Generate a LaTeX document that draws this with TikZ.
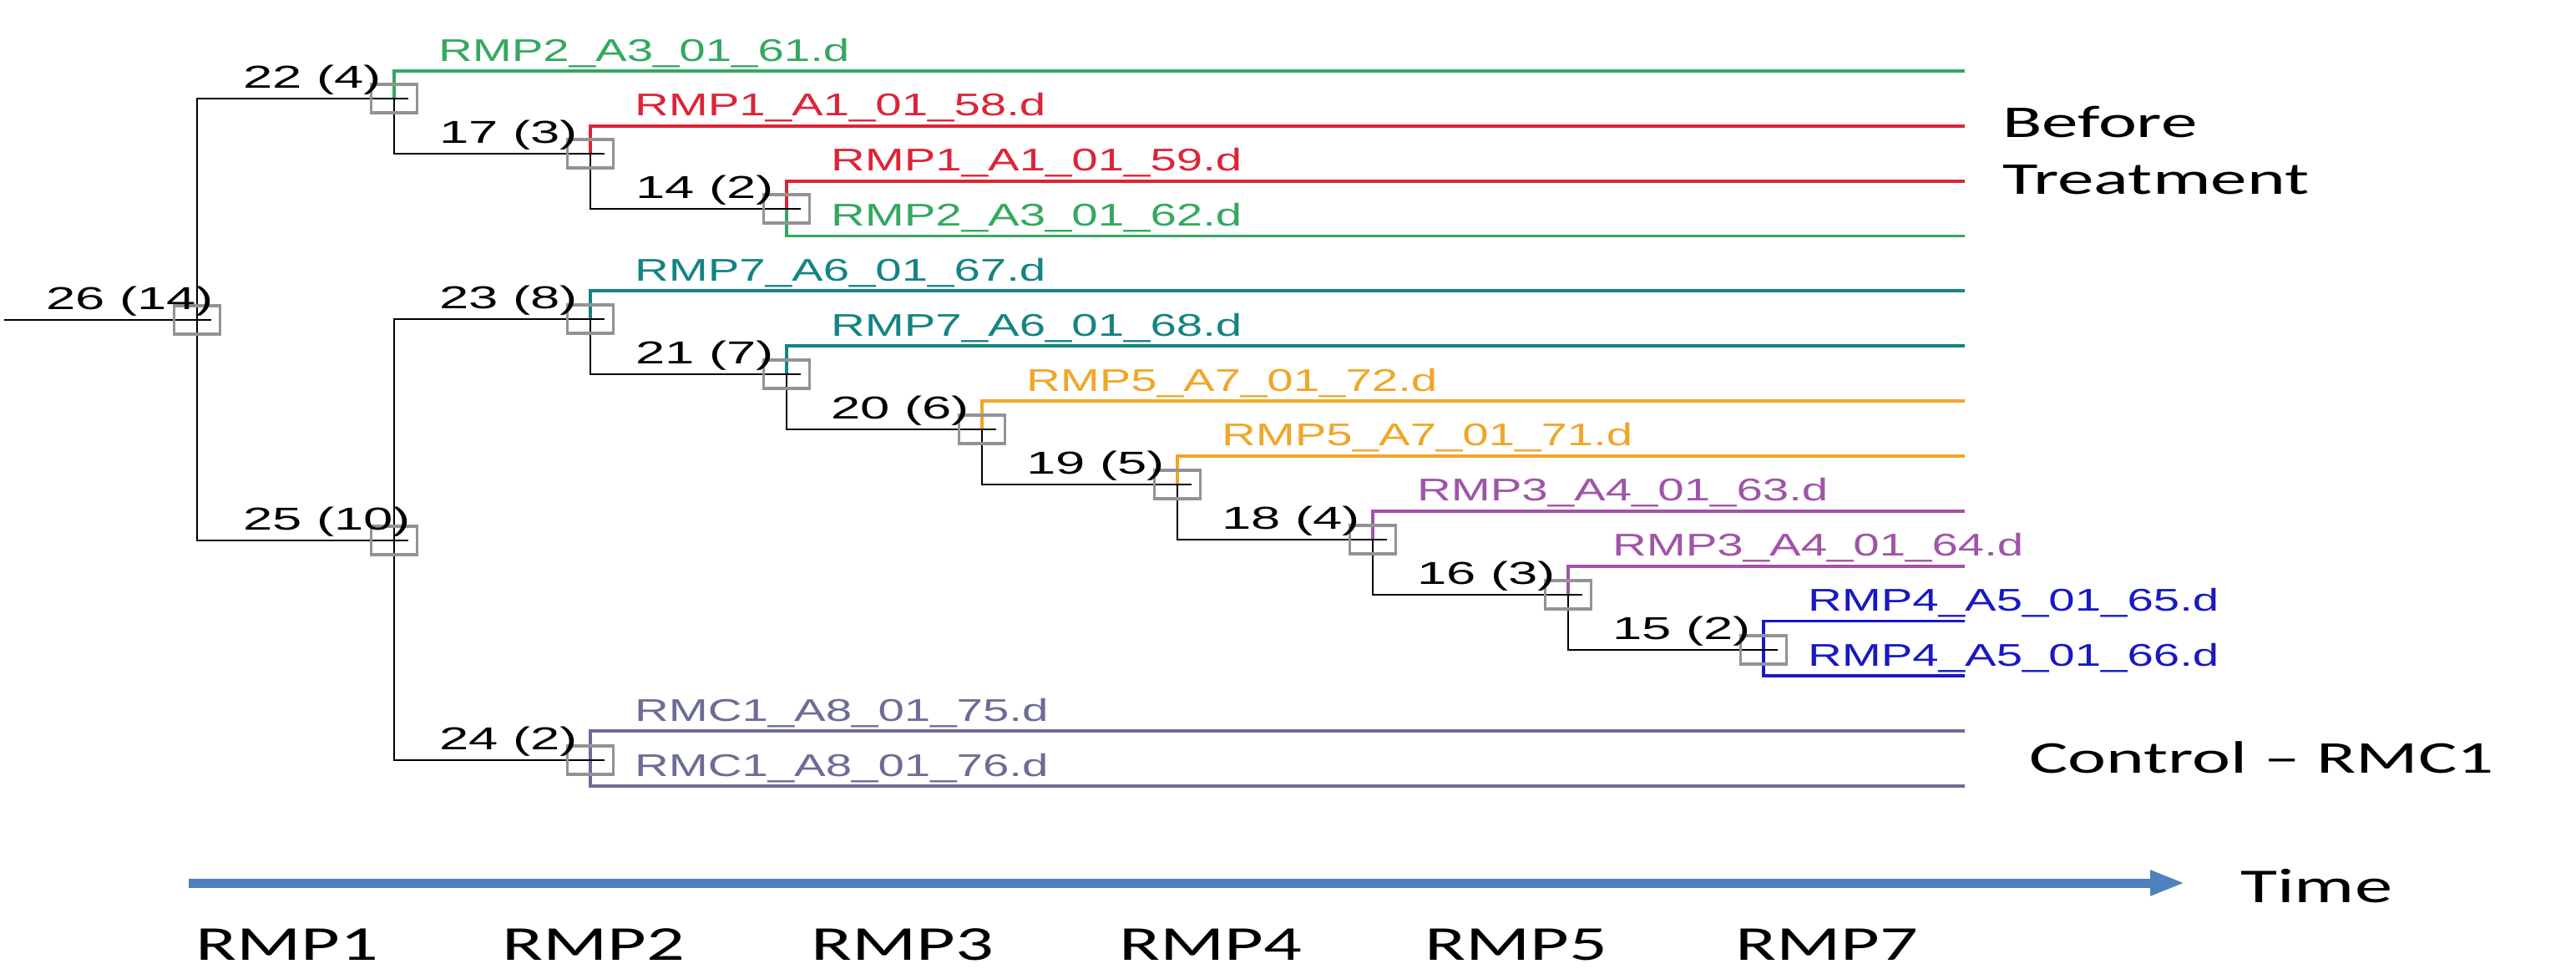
\documentclass[tikz,border=0pt]{standalone}
\usepackage{fontspec}
\newfontfamily\treefont{Liberation Sans}
\newfontfamily\notefont{Carlito}
\usetikzlibrary{arrows.meta}
\definecolor{LeafGreen}{RGB}{52,168,96}
\definecolor{LeafRed}{RGB}{220,36,56}
\definecolor{LeafTeal}{RGB}{20,132,130}
\definecolor{LeafOrange}{RGB}{240,166,40}
\definecolor{LeafPurple}{RGB}{160,84,168}
\definecolor{LeafBlue}{RGB}{24,24,196}
\definecolor{LeafSlate}{RGB}{108,108,150}
\definecolor{TimeBlue}{RGB}{79,129,189}
\tikzset{
    branch/.style={
        line width=0.8pt, black
    },
    leafline/.style={
        line width=1.1pt
    },
    nodebox/.style={
        draw=gray!85, line width=1pt, minimum width=0.55cm, minimum height=0.34cm, inner sep=0pt,
        path picture={\draw[black, line width=0.8pt] ([xshift=1pt]path picture bounding box.west) -- ([xshift=-3pt]path picture bounding box.east);}
    },
    countlabel/.style={
        font=\treefont\fontsize{10.8}{12}\selectfont, anchor=base west, inner sep=0pt, xscale=1.67
    },
    leaflabel/.style={
        font=\treefont\fontsize{10.7}{12}\selectfont, anchor=base west, inner sep=0pt, xscale=1.5
    },
    notelabel/.style={
        font=\notefont\fontsize{15.5}{18}\selectfont, anchor=base west, inner sep=0pt, xscale=1.6
    },
    timelabel/.style={
        font=\notefont\fontsize{16.6}{19}\selectfont, anchor=base west, inner sep=0pt, xscale=1.55
    },
    timearrow/.style={
        line width=0.11cm, TimeBlue, -{Triangle[length=0.42cm, width=0.28cm]}
    }
}
\begin{document}
\begin{tikzpicture}
    \useasboundingbox (0,0) rectangle (30.85,-11.65);

    % --- cluster nodes ---
    \coordinate (n26) at (2.36,-3.83);
    \coordinate (n22) at (4.72,-1.18);
    \coordinate (n17) at (7.07,-1.84);
    \coordinate (n14) at (9.42,-2.50);
    \coordinate (n25) at (4.72,-6.47);
    \coordinate (n23) at (7.07,-3.82);
    \coordinate (n21) at (9.42,-4.48);
    \coordinate (n20) at (11.76,-5.14);
    \coordinate (n19) at (14.10,-5.80);
    \coordinate (n18) at (16.44,-6.46);
    \coordinate (n16) at (18.78,-7.12);
    \coordinate (n15) at (21.12,-7.78);
    \coordinate (n24) at (7.07,-9.10);
    \coordinate (rootin) at (0.05,-3.83);

    \draw[branch] (rootin) -- (n26);
    \foreach \a/\b in {n26/n22, n26/n25, n22/n17, n17/n14, n25/n23, n25/n24,
                       n23/n21, n21/n20, n20/n19, n19/n18, n18/n16, n16/n15}
        \draw[branch] (\a) |- (\b);

    % --- samples ---
    \foreach \i/\up/\col/\txt in {
        0/n22/LeafGreen/RMP2\_A3\_01\_61.d,
        1/n17/LeafRed/RMP1\_A1\_01\_58.d,
        2/n14/LeafRed/RMP1\_A1\_01\_59.d,
        3/n14/LeafGreen/RMP2\_A3\_01\_62.d,
        4/n23/LeafTeal/RMP7\_A6\_01\_67.d,
        5/n21/LeafTeal/RMP7\_A6\_01\_68.d,
        6/n20/LeafOrange/RMP5\_A7\_01\_72.d,
        7/n19/LeafOrange/RMP5\_A7\_01\_71.d,
        8/n18/LeafPurple/RMP3\_A4\_01\_63.d,
        9/n16/LeafPurple/RMP3\_A4\_01\_64.d,
        10/n15/LeafBlue/RMP4\_A5\_01\_65.d,
        11/n15/LeafBlue/RMP4\_A5\_01\_66.d,
        12/n24/LeafSlate/RMC1\_A8\_01\_75.d,
        13/n24/LeafSlate/RMC1\_A8\_01\_76.d}
    {
        \pgfmathsetmacro\ly{-0.85-0.6585*\i}
        \coordinate (e\i) at (23.53,\ly);
        \draw[leafline, \col] (\up) |- (e\i);
        \node[leaflabel, text=\col] (s\i) at ([xshift=0.52cm, yshift=0.12cm]\up |- e\i) {\txt};
    }

    % --- collapse boxes and counts ---
    \foreach \n/\txt in {n26/26 (14), n22/22 (4), n17/17 (3), n14/14 (2), n25/25 (10),
                         n23/23 (8), n21/21 (7), n20/20 (6), n19/19 (5), n18/18 (4),
                         n16/16 (3), n15/15 (2), n24/24 (2)}
    {
        \node[nodebox] (b\n) at (\n) {};
        \node[countlabel] (c\n) at ([xshift=-1.82cm, yshift=0.13cm]\n) {\txt};
    }

    % groups
    \node[notelabel] (before) at (23.97,-1.64) {Before};
    \node[notelabel] (treat) at (23.97,-2.32) {Treatment};
    \node[notelabel] (control) at (24.29,-9.25) {Control – RMC1};

    % time axis
    \coordinate (t0) at (2.26,-10.57);
    \coordinate (t1) at (26.17,-10.57);
    \draw[timearrow] (t0) -- (t1);
    \node[timelabel] (time) at (26.82,-10.80) {Time};
    \foreach \k/\x in {1/2.33, 2/6.00, 3/9.70, 4/13.39, 5/17.05, 7/20.77}
        \node[timelabel] (rmp\k) at (\x,-11.49) {RMP\k};
\end{tikzpicture}
\end{document}
